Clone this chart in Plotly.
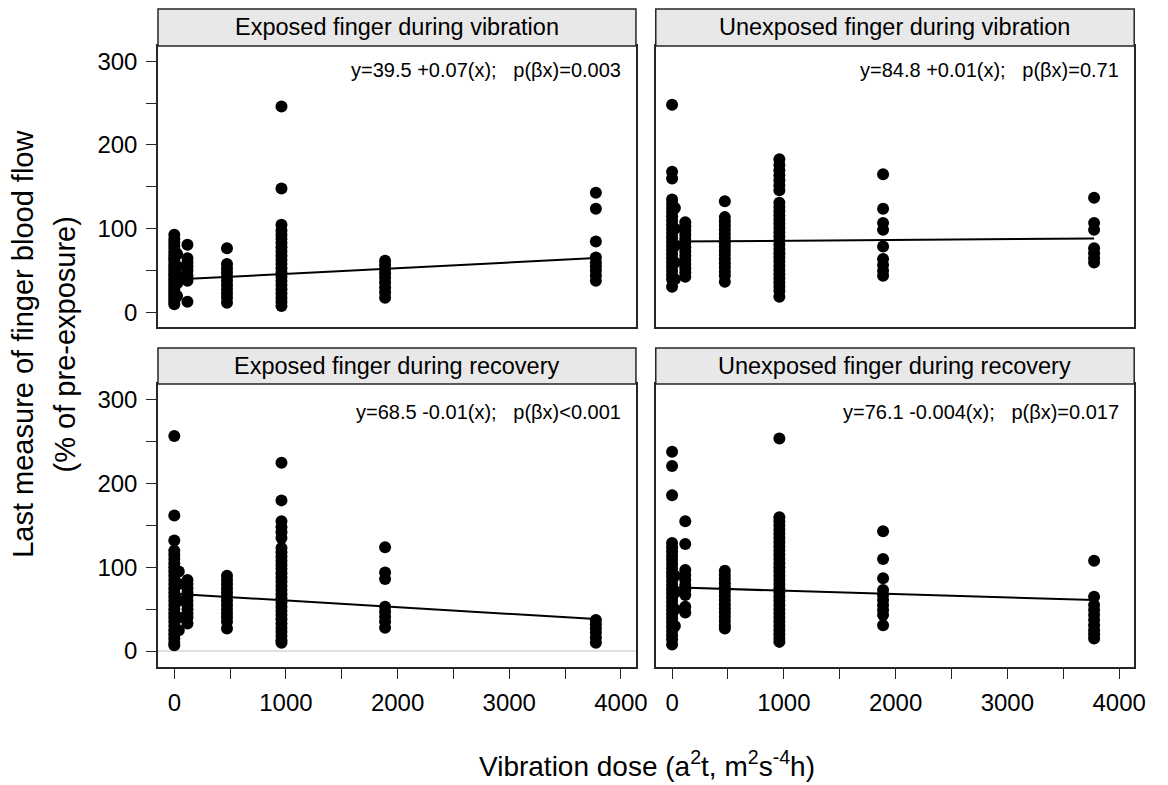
import plotly.graph_objects as go

# ---------------- data ----------------
PANEL_TITLES = ["Exposed finger during vibration", "Unexposed finger during vibration",
                "Exposed finger during recovery", "Unexposed finger during recovery"]
EQUATIONS = ["y=39.5 +0.07(x);\u00a0\u00a0\u00a0p(\u03b2x)=0.003",
             "y=84.8 +0.01(x);\u00a0\u00a0\u00a0p(\u03b2x)=0.71",
             "y=68.5 -0.01(x);\u00a0\u00a0\u00a0p(\u03b2x)<0.001",
             "y=76.1 -0.004(x);\u00a0\u00a0\u00a0p(\u03b2x)=0.017"]
INTERCEPTS = [39.5, 84.8, 68.5, 76.1]
SLOPES = [0.0068, 0.001, -0.008, -0.004]
LINE_X = [0, 3776]

# Exposed finger during vibration
ev_dose0 = [93, 88, 84, 80, 76, 72, 68, 65, 62, 58, 55, 52, 49, 46, 43, 40, 37, 34, 31, 28, 25, 22, 19, 16, 13, 10]
ev_dose25 = [70, 55, 45, 35, 20]
ev_dose118 = [81, 65, 60, 55, 50, 44, 38, 13]
ev_dose472 = [77, 58, 53, 48, 43, 38, 33, 28, 23, 18, 12]
ev_dose960 = [246, 148, 105, 98, 93, 88, 83, 78, 73, 68, 63, 58, 53, 48, 43, 38, 33, 28, 23, 18, 13, 8]
ev_dose1888 = [62, 57, 52, 47, 42, 36, 30, 24, 18]
ev_dose3776 = [143, 124, 85, 66, 60, 55, 50, 44, 38]

# Unexposed finger during vibration
uv_dose0 = [248, 168, 160, 135, 130, 125, 120, 115, 110, 105, 100, 95, 90, 85, 80, 75, 70, 65, 60, 55, 50, 45, 40, 31]
uv_dose25 = [125, 100, 80, 60, 40]
uv_dose118 = [108, 103, 98, 93, 88, 83, 78, 73, 68, 63, 58, 53, 48, 43]
uv_dose472 = [133, 114, 109, 104, 99, 94, 89, 84, 79, 74, 69, 64, 59, 54, 49, 44, 37]
uv_dose960 = [183, 176, 170, 164, 158, 152, 146, 131, 126, 121, 116, 111, 106, 101, 96, 91, 86, 81, 76, 71,
              66, 61, 56, 51, 46, 41, 36, 31, 26, 19]
uv_dose1888 = [165, 124, 107, 99, 79, 64, 57, 50, 44]
uv_dose3776 = [137, 107, 99, 77, 71, 65, 60]

# Exposed finger during recovery
er_dose0 = [257, 162, 132, 120, 115, 110, 105, 100, 95, 90, 85, 80, 75, 70, 65, 60, 55, 50, 45, 40, 35, 30,
            25, 20, 15, 10, 7]
er_dose40 = [95, 80, 60, 40, 25]
er_dose118 = [85, 80, 75, 70, 65, 60, 55, 50, 45, 40, 33]
er_dose472 = [90, 85, 80, 75, 70, 65, 60, 55, 50, 45, 40, 35, 27]
er_dose960 = [225, 180, 155, 148, 142, 135, 123, 118, 113, 108, 103, 98, 93, 88, 83, 78, 73, 68, 63, 58, 53,
              48, 43, 38, 33, 28, 23, 18, 13, 10]
er_dose1888 = [124, 94, 86, 53, 47, 41, 35, 28]
er_dose3776 = [37, 32, 27, 22, 16, 10]

# Unexposed finger during recovery
ur_dose0 = [238, 221, 186, 129, 124, 119, 114, 109, 104, 99, 94, 89, 84, 79, 74, 69, 64, 59, 54, 49, 44, 39,
            34, 29, 24, 19, 14, 8]
ur_dose25 = [90, 70, 50, 30]
ur_dose118 = [155, 128, 97, 91, 85, 79, 73, 67, 53, 46]
ur_dose472 = [96, 91, 86, 81, 76, 71, 66, 61, 56, 51, 46, 41, 36, 31, 27]
ur_dose960 = [254, 160, 155, 150, 145, 140, 135, 130, 125, 120, 115, 110, 105, 100, 95, 90, 85, 80, 75, 70,
              65, 60, 55, 50, 45, 40, 35, 30, 25, 20, 15, 11]
ur_dose1888 = [143, 110, 87, 73, 67, 61, 55, 49, 43, 31]
ur_dose3776 = [108, 65, 55, 49, 43, 37, 31, 25, 20, 15]

PANELS = [
    {0: ev_dose0, 25: ev_dose25, 118: ev_dose118, 472: ev_dose472, 960: ev_dose960, 1888: ev_dose1888, 3776: ev_dose3776},
    {0: uv_dose0, 25: uv_dose25, 118: uv_dose118, 472: uv_dose472, 960: uv_dose960, 1888: uv_dose1888, 3776: uv_dose3776},
    {0: er_dose0, 40: er_dose40, 118: er_dose118, 472: er_dose472, 960: er_dose960, 1888: er_dose1888, 3776: er_dose3776},
    {0: ur_dose0, 25: ur_dose25, 118: ur_dose118, 472: ur_dose472, 960: ur_dose960, 1888: ur_dose1888, 3776: ur_dose3776},
]

Y_TITLE_1 = "Last measure of finger blood flow"
Y_TITLE_2 = "(% of pre-exposure)"
X_TITLE = "Vibration dose (a<sup>2</sup>t, m<sup>2</sup>s<sup>-4</sup>h)"

# ---------------- layout geometry ----------------
W, H = 1168, 785
FONT = "Liberation Sans, Arial, sans-serif"
LINE_COL = "#262626"

def px_x(p):
    return p / W

def px_y(p):
    return 1 - p / H

XDOM = [[px_x(159.5), px_x(642)], [px_x(662), px_x(1145)]]
YDOM_TOP = [px_y(327), px_y(46)]
YDOM_BOT = [px_y(667), px_y(384)]
STRIP_TOP = [px_y(46), px_y(9)]
STRIP_BOT = [px_y(384), px_y(348)]

fig = go.Figure()

for i, panel in enumerate(PANELS):
    ax = "" if i == 0 else str(i + 1)
    xs, ys = [], []
    for dose, vals in panel.items():
        xs += [dose] * len(vals)
        ys += vals
    fig.add_trace(go.Scatter(x=xs, y=ys, mode="markers", xaxis="x" + ax, yaxis="y" + ax,
                             marker=dict(size=12, color="black", line=dict(width=0)),
                             showlegend=False, hoverinfo="skip"))
    fig.add_trace(go.Scatter(x=LINE_X, y=[INTERCEPTS[i] + SLOPES[i] * v for v in LINE_X],
                             mode="lines", xaxis="x" + ax, yaxis="y" + ax,
                             line=dict(color="black", width=2), showlegend=False, hoverinfo="skip"))

layout = dict(width=W, height=H, margin=dict(l=0, r=0, t=0, b=0),
              paper_bgcolor="white", plot_bgcolor="white", showlegend=False,
              font=dict(family=FONT, color="black"))

tickfont = dict(family=FONT, size=24, color="black")
for i in range(4):
    ax = "" if i == 0 else str(i + 1)
    col = i % 2
    row = i // 2
    xdom = XDOM[col]
    ydom = YDOM_TOP if row == 0 else YDOM_BOT
    yr = [-17, 318] if row == 0 else [-19, 319]
    xa = dict(domain=xdom, range=[-146, 4135], anchor="y" + ax, showgrid=False, zeroline=False,
              showline=True, mirror=True, linecolor=LINE_COL, linewidth=1.5)
    if row == 1:
        xa.update(tickmode="linear", tick0=0, dtick=1000, ticks="outside", ticklen=10, tickwidth=1,
                  tickcolor=LINE_COL, tickfont=tickfont, ticklabelstandoff=3,
                  minor=dict(tick0=0, dtick=500, ticks="outside", ticklen=10, tickwidth=1, tickcolor=LINE_COL))
    else:
        xa.update(showticklabels=False, ticks="")
    ya = dict(domain=ydom, range=yr, anchor="x" + ax, showgrid=False, zeroline=False,
              showline=True, mirror=True, linecolor=LINE_COL, linewidth=1.5)
    if col == 0:
        ya.update(tickmode="linear", tick0=0, dtick=100, ticks="outside", ticklen=10, tickwidth=1,
                  tickcolor=LINE_COL, tickfont=tickfont, ticklabelstandoff=4,
                  minor=dict(tick0=0, dtick=50, ticks="outside", ticklen=10, tickwidth=1, tickcolor=LINE_COL))
    else:
        ya.update(showticklabels=False, ticks="")
    layout["xaxis" + ax] = xa
    layout["yaxis" + ax] = ya

fig.update_layout(**layout)

# strips
for i, title in enumerate(PANEL_TITLES):
    col = i % 2
    row = i // 2
    sy = STRIP_TOP if row == 0 else STRIP_BOT
    fig.add_shape(type="rect", xref="paper", yref="paper", x0=XDOM[col][0], x1=XDOM[col][1],
                  y0=sy[0], y1=sy[1], fillcolor="#e8e8e8", line=dict(color=LINE_COL, width=1.5))
    fig.add_annotation(xref="paper", yref="paper", x=(XDOM[col][0] + XDOM[col][1]) / 2,
                       y=(sy[0] + sy[1]) / 2, text=title, showarrow=False,
                       font=dict(family=FONT, size=23.5, color="black"), xanchor="center", yanchor="middle")
    ax = "" if i == 0 else str(i + 1)
    fig.add_annotation(xref="x" + ax + " domain", yref="y" + ax + " domain", x=0.972,
                       y=0.914 if row == 0 else 0.90, text=EQUATIONS[i], showarrow=False,
                       font=dict(family=FONT, size=20, color="black"), xanchor="right", yanchor="middle")

# light grey zero line in the lower-left panel
fig.add_shape(type="line", xref="x3", yref="y3", x0=-146, x1=4135, y0=0, y1=0,
              line=dict(color="#e0e0e0", width=2), layer="below")

# axis titles
fig.add_annotation(xref="paper", yref="paper", x=px_x(23), y=px_y(344), text=Y_TITLE_1, textangle=-90,
                   showarrow=False, font=dict(family=FONT, size=29, color="black"),
                   xanchor="center", yanchor="middle")
fig.add_annotation(xref="paper", yref="paper", x=px_x(66), y=px_y(344), text=Y_TITLE_2, textangle=-90,
                   showarrow=False, font=dict(family=FONT, size=29, color="black"),
                   xanchor="center", yanchor="middle")
fig.add_annotation(xref="paper", yref="paper", x=px_x(653), y=px_y(764), text=X_TITLE,
                   showarrow=False, font=dict(family=FONT, size=28, color="black"),
                   xanchor="center", yanchor="middle")

fig.write_html("out.html")
